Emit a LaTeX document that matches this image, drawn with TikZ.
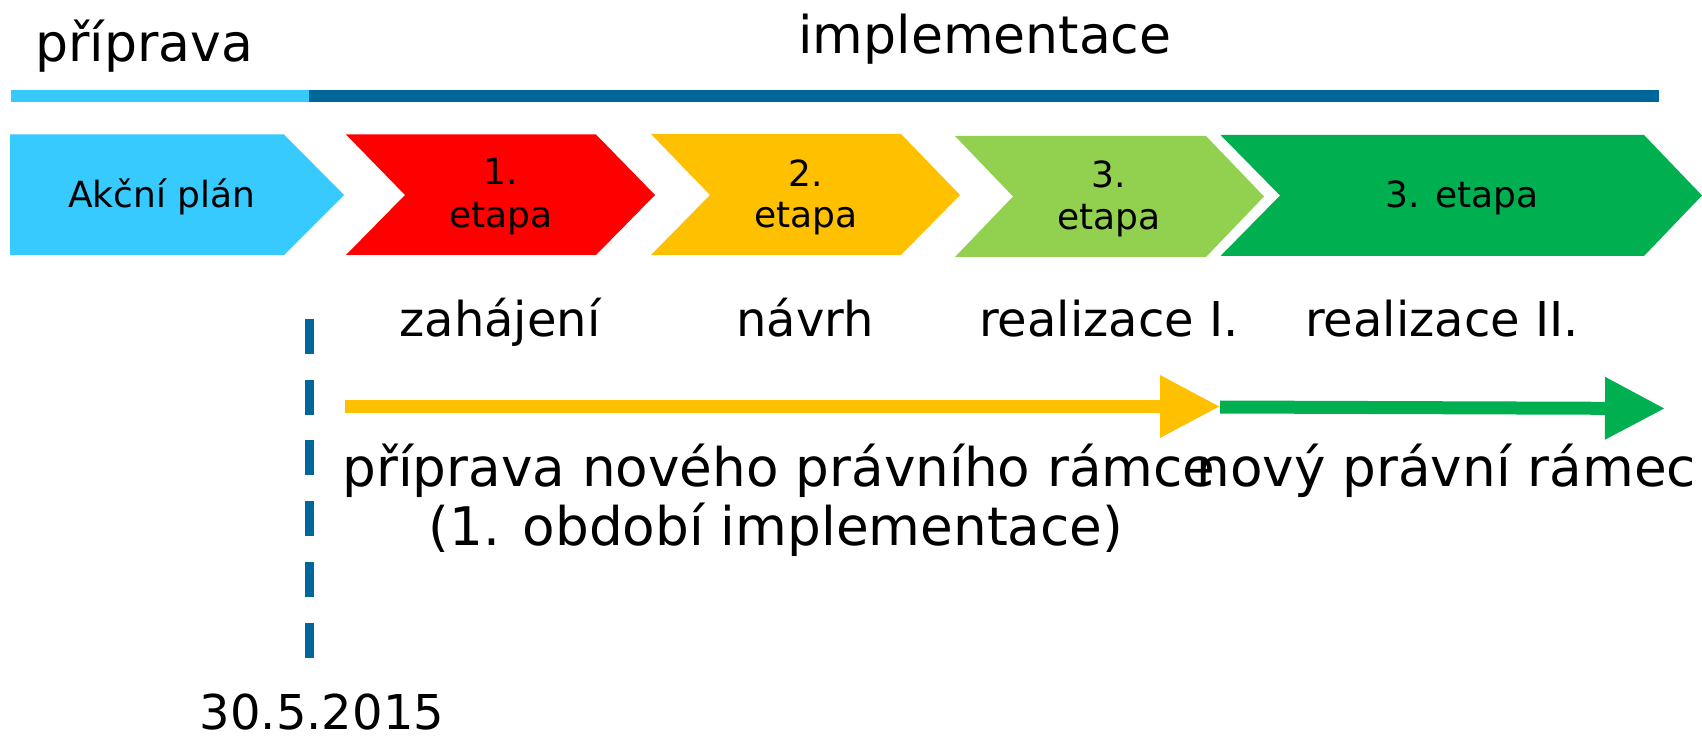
\documentclass[tikz,border=0pt]{standalone}
\usepackage{fontspec}
\setmainfont{DejaVu Sans}
\usetikzlibrary{arrows.meta}
\definecolor{lblue}{HTML}{36CAFF}
\definecolor{dblue}{HTML}{00679A}
\definecolor{cred}{HTML}{FF0000}
\definecolor{cyel}{HTML}{FFC000}
\definecolor{lgreen}{HTML}{92D050}
\definecolor{dgreen}{HTML}{00B050}
\begin{document}
\begin{tikzpicture}[x=0.5pt,y=-0.5pt,
  lbl/.style={inner sep=0pt, anchor=base, font=\fontsize{18pt}{21pt}\selectfont},
  phase/.style={inner sep=0pt, anchor=base, font=\fontsize{24pt}{28pt}\selectfont},
  big/.style={inner sep=0pt, anchor=base, font=\fontsize{26pt}{30pt}\selectfont},
  bigger/.style={inner sep=0pt, anchor=base, font=\fontsize{26.6pt}{30pt}\selectfont},
  flow/.style={line width=6.5pt, -{Triangle[length=30pt,width=29.5pt]}},
  cut/.style={dblue, line width=4.5pt, dash pattern=on 17.5pt off 12.85pt}]
\useasboundingbox (0,0) rectangle (1702,737);
\fill[white] (0,0) rectangle (1702,737);
% top titles
\node[big, anchor=base west] (tprip) at (35,62) {příprava};
\node[big] (timpl) at (985,54) {implementace};
% bars
\fill[lblue] (11,90) rectangle (309,102);
\fill[dblue] (309,90) rectangle (1659,102);
% chevrons
\fill[lblue] (10,134.5) -- (284,134.5) -- (344,195) -- (284,255) -- (10,255) -- cycle;
\fill[cred] (346,134.5) -- (596,134.5) -- (655,195) -- (596,255) -- (346,255) -- (405,195) -- cycle;
\fill[cyel] (651,134) -- (901,134) -- (960,195) -- (901,255) -- (651,255) -- (710,195) -- cycle;
\fill[lgreen] (955,136) -- (1206,136) -- (1264,196.5) -- (1206,257) -- (955,257) -- (1013,196.5) -- cycle;
\fill[dgreen] (1220.5,135) -- (1644,135) -- (1702,195.5) -- (1644,256) -- (1220.5,256) -- (1280,195.5) -- cycle;
% chevron texts
\node[lbl] (ap) at (162,208) {Akční plán};
\node[lbl] (e1n) at (501,185) {1.};
\node[lbl] (e1) at (501,228) {etapa};
\node[lbl] (e2n) at (806,187) {2.};
\node[lbl] (e2) at (806,228) {etapa};
\node[lbl] (e3n) at (1109,188) {3.};
\node[lbl] (e3) at (1109,230) {etapa};
\node[lbl] (e4) at (1462,208) {3. etapa};
% phase labels
\node[phase] (l1) at (500,337) {zahájení};
\node[phase] (l2) at (805,337) {návrh};
\node[phase] (l3) at (1109,337) {realizace I.};
\node[phase] (l4) at (1442,337) {realizace II.};
% dashed date line
\coordinate (d1) at (309.5,319);
\coordinate (d2) at (309.5,658);
\draw[cut] (d1) -- (d2);
% flow arrows
\coordinate (ya) at (345,406.5);
\coordinate (yb) at (1220,406.5);
\coordinate (ga) at (1220,407);
\coordinate (gb) at (1665,408.5);
\draw[flow, cyel] (ya) -- (yb);
\draw[flow, dgreen] (ga) -- (gb);
% lower texts
\node[bigger] (pr1) at (779,487) {příprava nového právního rámce};
\node[bigger] (pr2) at (776,545) {(1. období implementace)};
\node[bigger, anchor=base west] (nr) at (1196,487) {nový právní rámec};
\node[phase] (date) at (322,729) {30.5.2015};
\end{tikzpicture}
\end{document}
